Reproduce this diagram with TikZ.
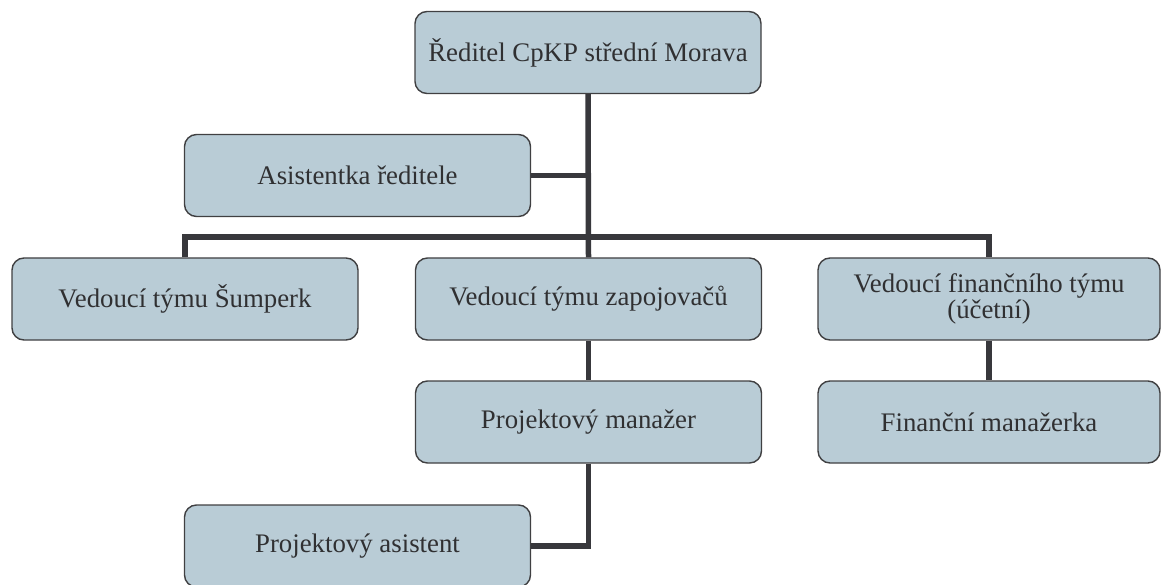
\documentclass[tikz,border=0pt]{standalone}
\usepackage{fontspec}
\setmainfont{Liberation Serif}
\definecolor{boxfill}{RGB}{185,204,214}
\definecolor{boxline}{RGB}{64,64,66}
\definecolor{connline}{RGB}{56,56,60}
\definecolor{txt}{RGB}{48,48,50}
\begin{document}
\begin{tikzpicture}[x=1pt,y=-1pt,
  box/.style={draw=boxline, fill=boxfill, line width=1.4pt, rounded corners=12pt,
    minimum width=346pt, minimum height=82pt, align=center, text=txt,
    font=\fontsize{26.8}{25.5}\selectfont, inner sep=0pt},
  conn/.style={draw=connline, line width=5.5pt}]
\useasboundingbox (0,0) rectangle (1161,585);
\node[box] (dir) at (588,52.5) {Ředitel CpKP střední Morava};
\node[box] (asist) at (357.5,175.5) {Asistentka ředitele};
\node[box] (sum) at (185,299) {Vedoucí týmu Šumperk};
\node[box] (zap) at (588.5,299) {Vedoucí týmu zapojovačů};
\node[box, minimum width=342pt] (fin) at (989,299) {Vedoucí finančního týmu\\(účetní)};
\node[box] (pm) at (588.5,422) {Projektový manažer};
\node[box, minimum width=342pt] (fm) at (989,422) {Finanční manažerka};
\node[box] (pa) at (357.5,546) {Projektový asistent};
\coordinate (bus) at (588,237);
\draw[conn] (dir.south) -- (zap.north);
\draw[conn] (asist.east) -- (asist.east -| dir.south);
\draw[conn] (sum.north) |- (bus) -| (fin.north);
\draw[conn] (zap.south) -- (pm.north);
\draw[conn] (fin.south) -- (fm.north);
\draw[conn] (pm.south) |- (pa.east);
\end{tikzpicture}
\end{document}
